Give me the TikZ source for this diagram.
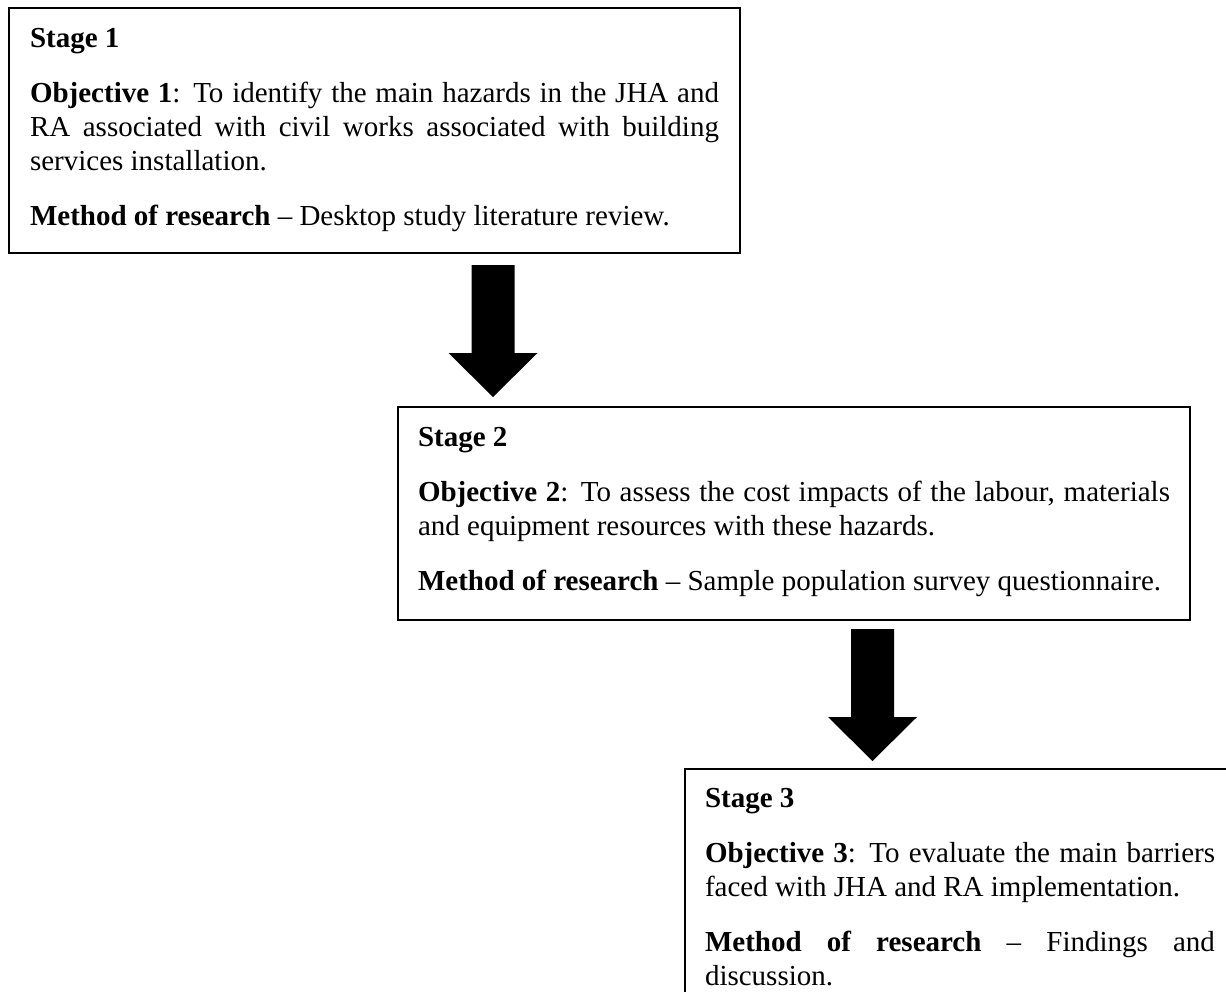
\documentclass[tikz,border=0pt]{standalone}
\usepackage{fontspec}
\setmainfont{Liberation Serif}
\usetikzlibrary{calc}
\newcommand\pskip{\par\vspace{10.5pt}}
\newcommand\firststrut{\vrule height 12pt depth 0pt width 0pt\relax}
\newcommand\boxfont{\fontsize{14.5pt}{17pt}\selectfont\hyphenpenalty=10000\relax\tolerance=10000\relax\hbadness=10000\relax}
\begin{document}
\begin{tikzpicture}[x=0.5pt,y=-0.5pt,
  stagebox/.style={draw, line width=1.1pt, anchor=north west, inner sep=0pt, outer sep=0pt},
  stagetext/.style={anchor=north west, inner sep=0pt, outer sep=0pt, text width=#1, align=justify,
    font=\boxfont},
  blockarrow/.style={fill=black}]
\useasboundingbox (0,0) rectangle (1226,991);
\clip (0,0) rectangle (1226,991);

% boxes
\node[stagebox, minimum width=365.5pt, minimum height=122.5pt] (s1) at (9,8) {};
\node[stagebox, minimum width=396pt, minimum height=106.5pt] (s2) at (398,407) {};
\node[stagebox, minimum width=280pt, minimum height=125pt] (s3) at (685,769) {};

% texts
\node[stagetext=344.5pt] (t1) at (30,23) {\firststrut\textbf{Stage 1}\pskip
\textbf{Objective 1}: To identify the main hazards in the JHA and\linebreak
RA associated with civil works associated with building\linebreak
services installation.\pskip
\textbf{Method of research} – Desktop study literature review.};

\node[stagetext=376pt] (t2) at (418,422) {\firststrut\textbf{Stage 2}\pskip
\textbf{Objective 2}: To assess the cost impacts of the labour, materials\linebreak
and equipment resources with these hazards.\pskip
\textbf{Method of research} – Sample population survey questionnaire.};

\node[stagetext=255pt] (t3) at (705,783) {\firststrut\textbf{Stage 3}\pskip
\textbf{Objective 3}: To evaluate the main barriers\linebreak
faced with JHA and RA implementation.\pskip
\textbf{Method of research} – Findings and\linebreak
discussion.};

% block arrows
\coordinate (a1top) at ($(s1.south west)+(484,12)$);
\coordinate (a1tip) at ($(s2.north west)+(95,-10)$);
\fill[blockarrow] ($(a1top)+(-21.5,0)$) -- ($(a1top)+(21.5,0)$) -- ($(a1tip)+(21.5,-44)$)
  -- ($(a1tip)+(44.5,-44)$) -- (a1tip) -- ($(a1tip)+(-44.5,-44)$) -- ($(a1tip)+(-21.5,-44)$) -- cycle;

\coordinate (a2top) at ($(s2.south west)+(474.5,9)$);
\coordinate (a2tip) at ($(s3.north west)+(187.5,-8)$);
\fill[blockarrow] ($(a2top)+(-21.5,0)$) -- ($(a2top)+(21.5,0)$) -- ($(a2tip)+(21.5,-44)$)
  -- ($(a2tip)+(44.5,-44)$) -- (a2tip) -- ($(a2tip)+(-44.5,-44)$) -- ($(a2tip)+(-21.5,-44)$) -- cycle;
\end{tikzpicture}
\end{document}
